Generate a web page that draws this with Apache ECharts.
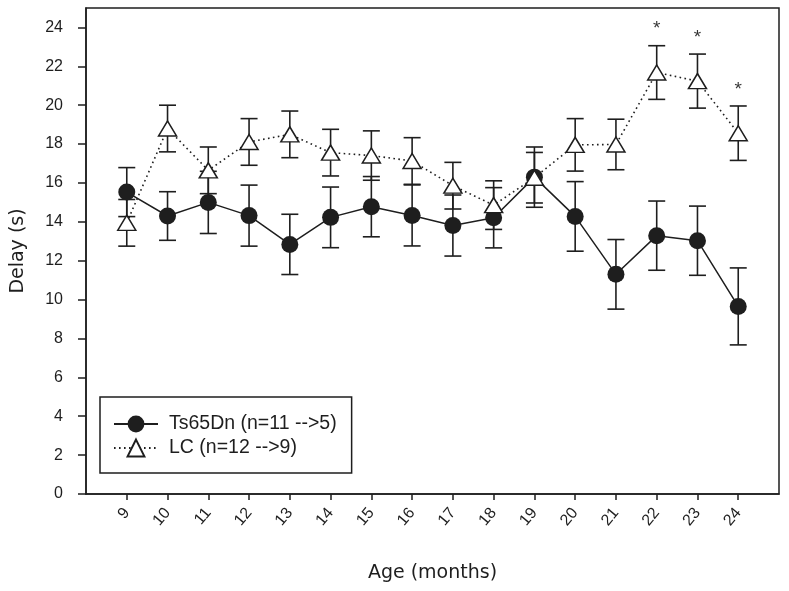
<!DOCTYPE html>
<html>
<head>
<meta charset="utf-8">
<script src="https://cdn.jsdelivr.net/npm/echarts@6/dist/echarts.min.js"></script>
<style>html,body{margin:0;padding:0;background:#fff}#c{width:789px;height:591px}</style>
</head>
<body>
<div id="c"></div>
<script>
const ages = [9,10,11,12,13,14,15,16,17,18,19,20,21,22,23,24];
const yTicks = [0,2,4,6,8,10,12,14,16,18,20,22,24];
const tsMean = [15.53,14.3,15.0,14.32,12.84,14.23,14.78,14.33,13.81,14.21,16.3,14.28,11.3,13.29,13.03,9.65];
const tsErr  = [1.26,1.25,1.6,1.57,1.55,1.56,1.55,1.57,1.57,1.55,1.55,1.79,1.79,1.78,1.78,1.98];
const lcMean = [13.95,18.8,16.65,18.11,18.5,17.56,17.41,17.13,15.86,14.86,16.27,17.96,17.98,21.68,21.24,18.56];
const lcErr  = [1.2,1.2,1.2,1.2,1.2,1.2,1.27,1.2,1.2,1.25,1.3,1.35,1.3,1.38,1.39,1.4];
const sigAges = [22,23,24];
const tsName = 'Ts65Dn (n=11 -->5)';
const lcName = 'LC (n=12 -->9)';

const ink = '#1e1e1e';
const chart = echarts.init(document.getElementById('c'));

function errRender(params, api) {
  const x = api.value(0), lo = api.value(1), hi = api.value(2);
  const pHi = api.coord([x, hi]), pLo = api.coord([x, lo]);
  const w = 8.5;
  const style = {stroke: ink, lineWidth: 1.6, fill: null};
  return {type: 'group', children: [
    {type: 'line', shape: {x1: pHi[0], y1: pHi[1], x2: pLo[0], y2: pLo[1]}, style: style},
    {type: 'line', shape: {x1: pHi[0]-w, y1: pHi[1], x2: pHi[0]+w, y2: pHi[1]}, style: style},
    {type: 'line', shape: {x1: pLo[0]-w, y1: pLo[1], x2: pLo[0]+w, y2: pLo[1]}, style: style}
  ]};
}

const tsErrData = ages.map((a,i)=>[a, tsMean[i]-tsErr[i], tsMean[i]+tsErr[i]]);
const lcErrData = ages.map((a,i)=>[a, lcMean[i]-lcErr[i], lcMean[i]+lcErr[i]]);
const sigData = sigAges.map(a => { const i = ages.indexOf(a); return [a, lcMean[i]+lcErr[i]]; });

chart.setOption({
  animation: false,
  backgroundColor: '#fff',
  grid: {left: 86, right: 10, top: 8, bottom: 97, show: true, borderColor: ink, borderWidth: 1.5, backgroundColor: 'transparent'},
  xAxis: {
    type: 'value', min: 8, max: 25,
    name: 'Age (months)', nameLocation: 'middle', nameGap: 70,
    nameTextStyle: {fontFamily: 'DejaVu Sans', fontSize: 19, color: ink},
    axisLine: {lineStyle: {color: ink, width: 1.5}},
    axisTick: {show: true, length: 6, lineStyle: {color: ink, width: 1.5}, customValues: ages},
    axisLabel: {customValues: ages, rotate: 50, margin: 16, fontFamily: 'Liberation Sans', fontSize: 16, color: ink},
    splitLine: {show: false}
  },
  yAxis: {
    type: 'value', min: 0, max: 25,
    name: 'Delay (s)', nameLocation: 'middle', nameGap: 58,
    nameTextStyle: {fontFamily: 'DejaVu Sans', fontSize: 19, color: ink},
    axisLine: {show: true, lineStyle: {color: ink, width: 1.5}},
    axisTick: {show: true, length: 8, lineStyle: {color: ink, width: 1.5}, customValues: yTicks},
    axisLabel: {customValues: yTicks, margin: 23, fontFamily: 'Liberation Sans', fontSize: 16, color: ink},
    splitLine: {show: false}
  },
  legend: {
    data: [tsName, lcName],
    orient: 'vertical', left: 100, top: 397,
    padding: [17, 15, 15, 13],
    itemWidth: 44, itemHeight: 21, itemGap: 4,
    borderColor: ink, borderWidth: 1.5, borderRadius: 0,
    textStyle: {fontFamily: 'Liberation Sans', fontSize: 19.5, color: ink, padding: [0,0,0,6]}
  },
  series: [
    {type: 'custom', name: 'tsErr', renderItem: errRender, data: tsErrData, encode: {x: 0, y: [1,2]}, z: 2, silent: true},
    {type: 'custom', name: 'lcErr', renderItem: errRender, data: lcErrData, encode: {x: 0, y: [1,2]}, z: 2, silent: true},
    {type: 'line', name: tsName, data: ages.map((a,i)=>[a, tsMean[i]]), z: 3,
     symbol: 'circle', symbolSize: 17, showAllSymbol: true,
     lineStyle: {color: ink, width: 1.5, type: 'solid'},
     itemStyle: {color: ink, borderWidth: 0}},
    {type: 'line', name: lcName, data: ages.map((a,i)=>[a, lcMean[i]]), z: 4,
     symbol: 'triangle', symbolSize: [18, 15], showAllSymbol: true,
     lineStyle: {color: ink, width: 1.6, type: [1.6, 3.4]},
     itemStyle: {color: '#fff', borderColor: ink, borderWidth: 1.5}},
    {type: 'scatter', name: 'sig', data: sigData, symbolSize: 0, z: 5, silent: true,
     label: {show: true, formatter: '*', position: 'top', distance: 7, fontFamily: 'Liberation Sans', fontSize: 19, color: '#000'}}
  ]
});
</script>
</body>
</html>
